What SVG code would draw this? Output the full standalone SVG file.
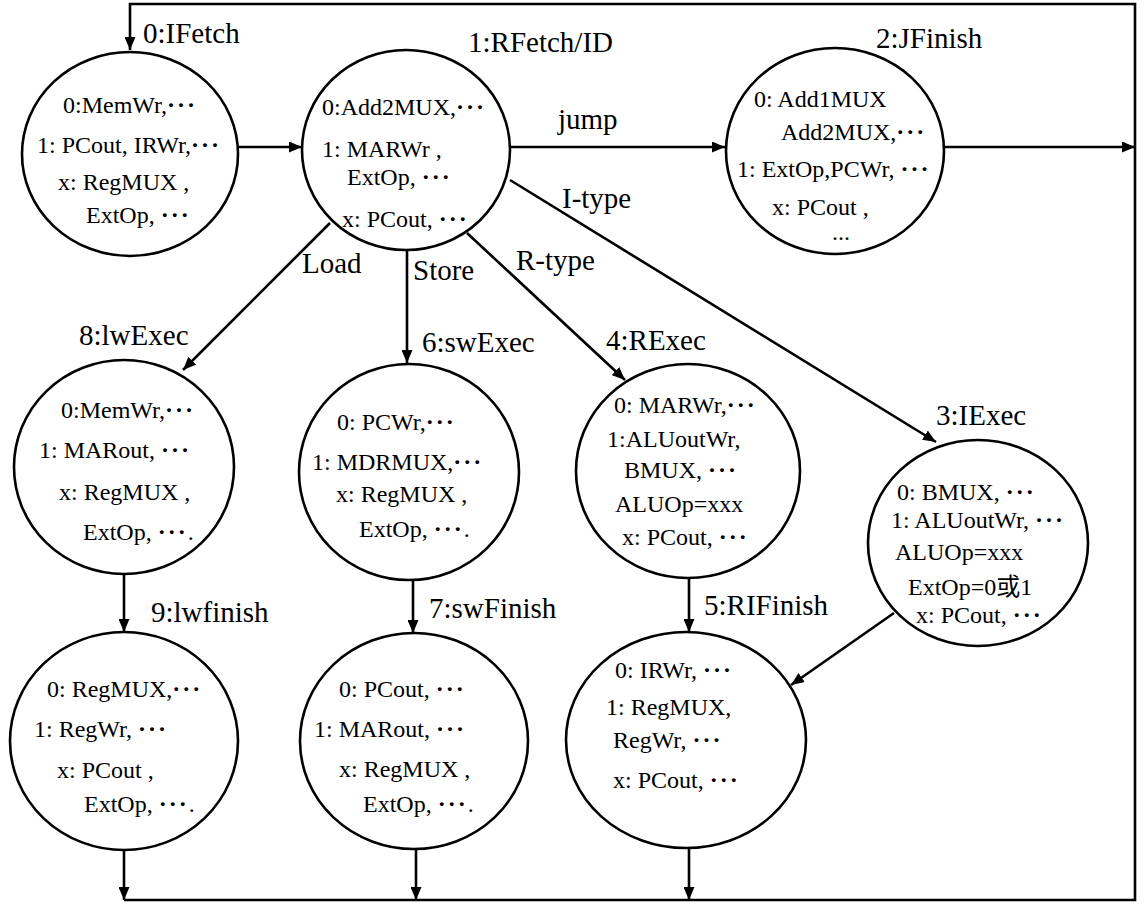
<svg xmlns="http://www.w3.org/2000/svg" width="1144" height="910" viewBox="0 0 1144 910">
<style>
.n{fill:#fff;stroke:#000;stroke-width:2.6}
.c{fill:none;stroke:#000;stroke-width:2.6}
text{font-family:Liberation Serif,Times New Roman,Noto Sans CJK SC,serif;fill:#000}
.t{font-size:29px}
.b{font-size:24px}
.d{letter-spacing:2px;font-weight:bold}
</style>
<defs>
<marker id="ah" markerUnits="userSpaceOnUse" markerWidth="13" markerHeight="11" refX="13" refY="5.5" orient="auto">
<path d="M0,0 L13,5.5 L0,11 z" fill="#000"/>
</marker>
</defs>
<rect width="1144" height="910" fill="#fff"/>
<g id="connectors" font-family="Liberation Serif, serif">
<path class="c" d="M124,900 H1135 V4 H130 V50" marker-end="url(#ah)"/>
<path class="c" d="M238,147 H302" marker-end="url(#ah)"/>
<path class="c" d="M510,147 H725" marker-end="url(#ah)"/>
<path class="c" d="M945,147 H1135" marker-end="url(#ah)"/>
<path class="c" d="M330,223 L183,370" marker-end="url(#ah)"/>
<path class="c" d="M407,250 V363" marker-end="url(#ah)"/>
<path class="c" d="M467,233 L625,380" marker-end="url(#ah)"/>
<path class="c" d="M510,180 L936,442" marker-end="url(#ah)"/>
<path class="c" d="M124,573 V632" marker-end="url(#ah)"/>
<path class="c" d="M413,580 V633" marker-end="url(#ah)"/>
<path class="c" d="M689,578 V632" marker-end="url(#ah)"/>
<path class="c" d="M894,613 L791,685" marker-end="url(#ah)"/>
<path class="c" d="M124,850 V900" marker-end="url(#ah)"/>
<path class="c" d="M416,850 V900" marker-end="url(#ah)"/>
<path class="c" d="M689,848 V900" marker-end="url(#ah)"/>
<text class="t" x="558" y="129">jump</text>
<text class="t" x="562" y="208">I-type</text>
<text class="t" x="516" y="270">R-type</text>
<text class="t" x="302" y="273">Load</text>
<text class="t" x="413" y="280">Store</text>
</g>
<g id="n0" font-family="Liberation Serif, serif">
<ellipse class="n" cx="130" cy="154" rx="108" ry="102"/>
<text class="t" x="143" y="43">0:IFetch</text>
<text class="b" x="63" y="113">0:MemWr,<tspan class="d">···</tspan></text>
<text class="b" x="37" y="153">1: PCout, IRWr,<tspan class="d">···</tspan></text>
<text class="b" x="58" y="190">x: RegMUX ,</text>
<text class="b" x="86" y="223">ExtOp, <tspan class="d">···</tspan></text>
</g>
<g id="n1" font-family="Liberation Serif, serif">
<ellipse class="n" cx="406" cy="150" rx="104" ry="100"/>
<text class="t" x="468" y="52">1:RFetch/ID</text>
<text class="b" x="322" y="115">0:Add2MUX,<tspan class="d">···</tspan></text>
<text class="b" x="322" y="157">1: MARWr ,</text>
<text class="b" x="347" y="185">ExtOp,  <tspan class="d">···</tspan></text>
<text class="b" x="342" y="227">x: PCout, <tspan class="d">···</tspan></text>
</g>
<g id="n2" font-family="Liberation Serif, serif">
<ellipse class="n" cx="835" cy="151" rx="109" ry="103"/>
<text class="t" x="876" y="48">2:JFinish</text>
<text class="b" x="754" y="107">0: Add1MUX</text>
<text class="b" x="781" y="140">Add2MUX,<tspan class="d">···</tspan></text>
<text class="b" x="737" y="177">1: ExtOp,PCWr, <tspan class="d">···</tspan></text>
<text class="b" x="772" y="215">x: PCout ,</text>
<text class="b" x="832" y="240">...</text>
</g>
<g id="n8" font-family="Liberation Serif, serif">
<ellipse class="n" cx="124" cy="467" rx="110" ry="107"/>
<text class="t" x="79" y="345">8:lwExec</text>
<text class="b" x="61" y="418">0:MemWr,<tspan class="d">···</tspan></text>
<text class="b" x="39" y="458">1: MARout, <tspan class="d">···</tspan></text>
<text class="b" x="59" y="500">x: RegMUX ,</text>
<text class="b" x="83" y="540">ExtOp, <tspan class="d">···</tspan>.</text>
</g>
<g id="n6" font-family="Liberation Serif, serif">
<ellipse class="n" cx="409" cy="472" rx="110" ry="108"/>
<text class="t" x="422" y="352">6:swExec</text>
<text class="b" x="337" y="430">0: PCWr,<tspan class="d">···</tspan></text>
<text class="b" x="312" y="470">1: MDRMUX,<tspan class="d">···</tspan></text>
<text class="b" x="336" y="502">x: RegMUX ,</text>
<text class="b" x="359" y="537">ExtOp, <tspan class="d">···</tspan>.</text>
</g>
<g id="n4" font-family="Liberation Serif, serif">
<ellipse class="n" cx="688" cy="471" rx="112" ry="107"/>
<text class="t" x="606" y="350">4:RExec</text>
<text class="b" x="614" y="413">0: MARWr,<tspan class="d">···</tspan></text>
<text class="b" x="607" y="447">1:ALUoutWr,</text>
<text class="b" x="624" y="478">BMUX, <tspan class="d">···</tspan></text>
<text class="b" x="615" y="512">ALUOp=xxx</text>
<text class="b" x="622" y="545">x: PCout, <tspan class="d">···</tspan></text>
</g>
<g id="n3" font-family="Liberation Serif, serif">
<ellipse class="n" cx="978" cy="543" rx="110" ry="103"/>
<text class="t" x="936" y="425">3:IExec</text>
<text class="b" x="897" y="500">0: BMUX, <tspan class="d">···</tspan></text>
<text class="b" x="891" y="528">1: ALUoutWr, <tspan class="d">···</tspan></text>
<text class="b" x="895" y="560">ALUOp=xxx</text>
<text class="b" x="908" y="595">ExtOp=0或1</text>
<text class="b" x="916" y="623">x: PCout, <tspan class="d">···</tspan></text>
</g>
<g id="n9" font-family="Liberation Serif, serif">
<ellipse class="n" cx="124" cy="741" rx="114" ry="109"/>
<text class="t" x="151" y="622">9:lwfinish</text>
<text class="b" x="47" y="697">0: RegMUX,<tspan class="d">···</tspan></text>
<text class="b" x="34" y="737">1: RegWr, <tspan class="d">···</tspan></text>
<text class="b" x="57" y="778">x: PCout ,</text>
<text class="b" x="84" y="812">ExtOp, <tspan class="d">···</tspan>.</text>
</g>
<g id="n7" font-family="Liberation Serif, serif">
<ellipse class="n" cx="414" cy="741" rx="114" ry="108"/>
<text class="t" x="429" y="618">7:swFinish</text>
<text class="b" x="339" y="697">0: PCout, <tspan class="d">···</tspan></text>
<text class="b" x="314" y="737">1: MARout, <tspan class="d">···</tspan></text>
<text class="b" x="339" y="777">x: RegMUX ,</text>
<text class="b" x="363" y="812">ExtOp, <tspan class="d">···</tspan>.</text>
</g>
<g id="n5" font-family="Liberation Serif, serif">
<ellipse class="n" cx="686" cy="740" rx="120" ry="108"/>
<text class="t" x="704" y="615">5:RIFinish</text>
<text class="b" x="615" y="678">0: IRWr, <tspan class="d">···</tspan></text>
<text class="b" x="606" y="715">1: RegMUX,</text>
<text class="b" x="613" y="748">RegWr, <tspan class="d">···</tspan></text>
<text class="b" x="613" y="788">x: PCout, <tspan class="d">···</tspan></text>
</g>
</svg>
